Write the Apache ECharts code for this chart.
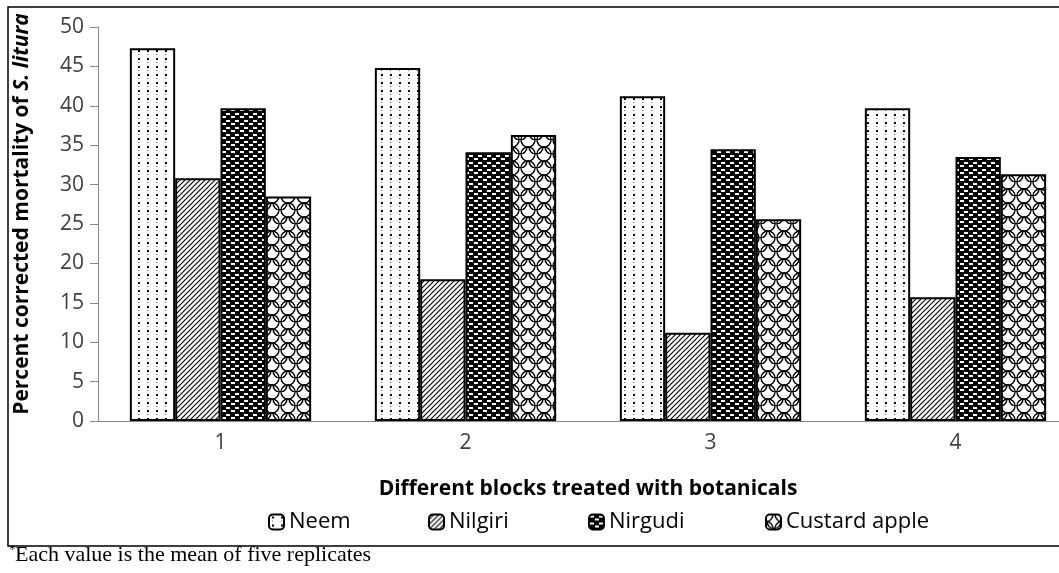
<!DOCTYPE html>
<html>
<head>
<meta charset="utf-8">
<script src="https://cdn.jsdelivr.net/npm/echarts@6/dist/echarts.min.js"></script>
<style>
  html, body { margin: 0; padding: 0; background: #fff; }
  #chart { width: 1059px; height: 573px; }
</style>
</head>
<body>
<div id="chart"></div>
<script>
const blocks = ['1', '2', '3', '4'];
const neem = [47.3, 44.8, 41.2, 39.7];
const nilgiri = [30.8, 18.0, 11.2, 15.7];
const nirgudi = [39.7, 34.1, 34.5, 33.5];
const custardApple = [28.5, 36.3, 25.6, 31.3];
const seriesNames = ['Neem', 'Nilgiri', 'Nirgudi', 'Custard apple'];

// little canvases used as repeating fills, like the Excel pattern fills
function makePattern(w, h, draw) {
  const c = document.createElement('canvas');
  c.width = w;
  c.height = h;
  const ctx = c.getContext('2d');
  draw(ctx, w, h);
  return { image: c, repeat: 'repeat' };
}

const dotsFill = makePattern(9, 8, (ctx) => {
  ctx.fillStyle = '#fff';
  ctx.fillRect(0, 0, 9, 8);
  ctx.fillStyle = '#000';
  ctx.fillRect(3, 2, 2, 2);
  ctx.fillStyle = '#666';
  ctx.fillRect(3, 6, 1, 1);
});

const diagFill = makePattern(5, 5, (ctx) => {
  ctx.fillStyle = '#fff';
  ctx.fillRect(0, 0, 5, 5);
  ctx.strokeStyle = '#000';
  ctx.lineWidth = 1.1;
  ctx.beginPath();
  ctx.moveTo(0, 5); ctx.lineTo(5, 0);
  ctx.moveTo(-1, 1); ctx.lineTo(1, -1);
  ctx.moveTo(4, 6); ctx.lineTo(6, 4);
  ctx.stroke();
});

const brickFill = makePattern(9, 7, (ctx) => {
  ctx.fillStyle = '#000';
  ctx.fillRect(0, 0, 9, 7);
  ctx.fillStyle = '#fff';
  ctx.fillRect(1, 1, 4, 2);
  ctx.fillRect(6, 4, 3, 2);
  ctx.fillRect(0, 4, 1, 2);
});

const scaleFill = makePattern(16, 14, (ctx) => {
  ctx.fillStyle = '#fff';
  ctx.fillRect(0, 0, 16, 14);
  ctx.strokeStyle = '#000';
  ctx.lineWidth = 1.4;
  ctx.beginPath();
  ctx.arc(0, 0, 7, 0, Math.PI / 2);
  ctx.stroke();
  ctx.beginPath();
  ctx.arc(16, 0, 7, Math.PI / 2, Math.PI);
  ctx.stroke();
  ctx.beginPath();
  ctx.arc(8, 7, 7, 0, Math.PI);
  ctx.stroke();
  ctx.beginPath();
  ctx.arc(0, 14, 7, -Math.PI / 2, 0);
  ctx.stroke();
  ctx.beginPath();
  ctx.arc(16, 14, 7, Math.PI, Math.PI * 1.5);
  ctx.stroke();
});

const fills = [dotsFill, diagFill, brickFill, scaleFill];
const values = [neem, nilgiri, nirgudi, custardApple];

const chart = echarts.init(document.getElementById('chart'));

const font = 'Open Sans';
const legendLefts = [263, 423, 583, 760];

const option = {
  backgroundColor: '#fff',
  animation: false,
  grid: { left: 98, top: 27, height: 394, width: 980, outerBoundsMode: 'none', containLabel: false },
  legend: seriesNames.map((n, i) => ({
    data: [n],
    left: legendLefts[i],
    top: 506,
    itemWidth: 15,
    itemHeight: 15,
    itemGap: 0,
    textStyle: { fontFamily: font, fontSize: 22, color: '#000' }
  })),
  xAxis: {
    type: 'category',
    data: blocks,
    name: 'Different blocks treated with botanicals',
    nameLocation: 'middle',
    nameGap: 58,
    nameTextStyle: { fontFamily: font, fontSize: 21, fontWeight: 'bold', color: '#000' },
    axisLine: { lineStyle: { color: '#868686', width: 1 } },
    axisTick: { length: 8, lineStyle: { color: '#868686' } },
    axisLabel: { fontFamily: font, fontSize: 21, color: '#404040', margin: 12 }
  },
  yAxis: {
    type: 'value',
    min: 0,
    max: 50,
    interval: 5,
    splitLine: { show: false },
    axisLine: { show: true, lineStyle: { color: '#868686', width: 1 } },
    axisTick: { show: true, length: 8, lineStyle: { color: '#868686' } },
    axisLabel: { fontFamily: font, fontSize: 21, color: '#404040', margin: 14 }
  },
  series: seriesNames.map((n, i) => ({
    name: n,
    type: 'bar',
    data: values[i],
    barGap: '0%',
    barCategoryGap: '26%',
    itemStyle: { color: fills[i], borderColor: '#000', borderWidth: 2 }
  })),
  graphic: [
    {
      type: 'rect',
      shape: { x: 8, y: 7, width: 1100, height: 539 },
      style: { fill: 'none', stroke: '#000', lineWidth: 1.5 },
      silent: true
    },
    {
      // y axis title, placed by hand so it sits where the original has it
      type: 'text',
      x: 22,
      y: 214,
      rotation: Math.PI / 2,
      style: {
        text: '{b|Percent corrected mortality of }{i|S. litura}',
        align: 'center',
        verticalAlign: 'middle',
        rich: {
          b: { fontFamily: font, fontSize: 21, fontWeight: 'bold', fill: '#000' },
          i: { fontFamily: font, fontSize: 21, fontWeight: 'bold', fontStyle: 'italic', fill: '#000' }
        }
      }
    },
    {
      type: 'text',
      x: 9,
      y: 543,
      style: { text: '*', fontFamily: 'Liberation Serif', fontSize: 13, fill: '#000', verticalAlign: 'top' }
    },
    {
      type: 'text',
      x: 15,
      y: 544,
      style: { text: 'Each value is the mean of five replicates', fontFamily: 'Liberation Serif', fontSize: 22, fill: '#000', verticalAlign: 'top' }
    }
  ]
};

chart.setOption(option);
</script>
</body>
</html>
